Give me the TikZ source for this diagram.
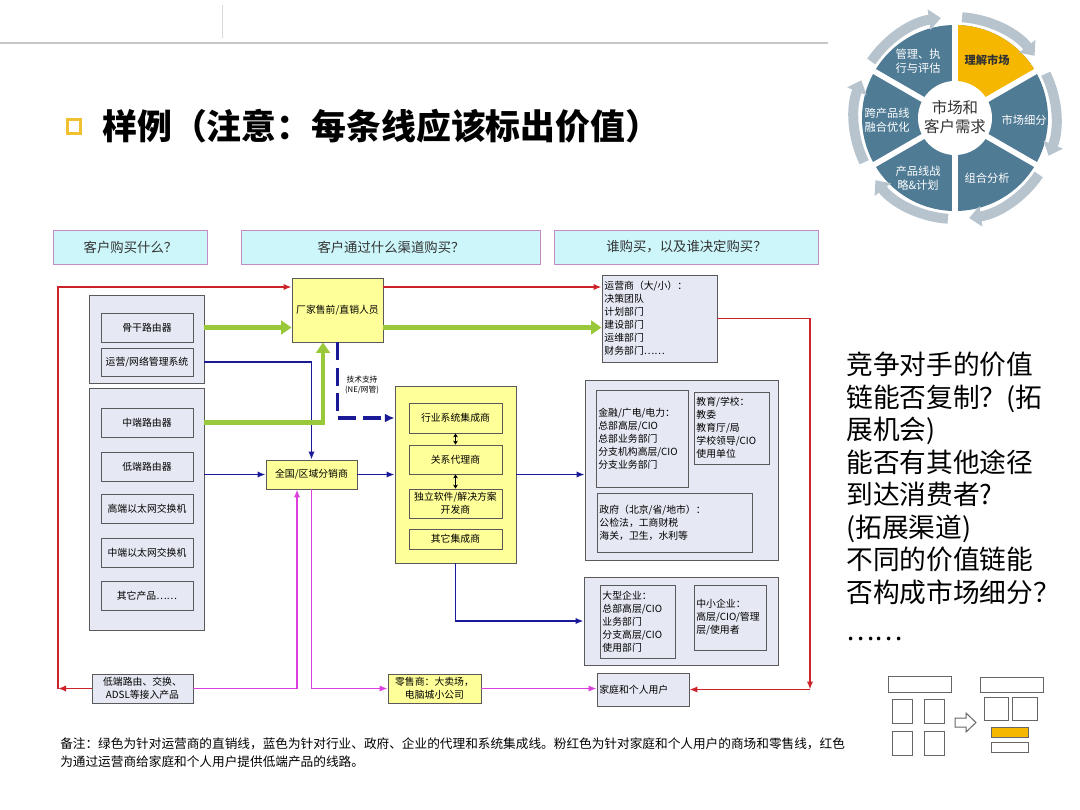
\documentclass[tikz,border=0pt]{standalone}
\usepackage{fontspec}
\setmainfont{Noto Sans CJK SC}
\usepackage{tikz}
\usetikzlibrary{positioning,arrows.meta}
\definecolor{secblue}{HTML}{4F7B95}
\definecolor{ringgray}{HTML}{B7C4CE}
\definecolor{mktyellow}{HTML}{F5B700}
\definecolor{hdrfill}{HTML}{CCF6FA}
\definecolor{hdrline}{HTML}{C48BC8}
\definecolor{boxfill}{HTML}{E6E9F3}
\definecolor{boxline}{HTML}{5A5A5A}
\definecolor{chanyellow}{HTML}{FFFF99}
\definecolor{lnred}{HTML}{CC2229}
\definecolor{lngreen}{HTML}{99C83A}
\definecolor{lnblue}{HTML}{1A1A96}
\definecolor{lnpink}{HTML}{DD3FDD}
\definecolor{bulletyellow}{HTML}{EFC030}

\begin{document}
\begin{tikzpicture}[
    x=0.025cm, y=-0.025cm,
    >=Latex,
    hdr/.style={draw=hdrline, fill=hdrfill, line width=0.7pt, text=black!80, font=\fontsize{9.5}{11}\selectfont},
    grp/.style={draw=boxline, fill=boxfill, line width=0.6pt},
    blk/.style={draw=boxline, fill=boxfill, line width=0.6pt, align=center, inner sep=1pt, font=\fontsize{7}{9}\selectfont},
    chan/.style={blk, fill=chanyellow},
    who/.style={blk, align=left, inner xsep=0.6mm, font=\fontsize{7}{9.2}\selectfont},
    redln/.style={draw=lnred, line width=1.4pt, -{Latex[length=2mm,width=1.6mm]}},
    grnln/.style={draw=lngreen, line width=2.9pt, -{Triangle[length=2.6mm,width=3.4mm]}},
    bluln/.style={draw=lnblue, line width=1.4pt, -{Latex[length=2mm,width=1.6mm]}},
    dashln/.style={draw=lnblue, line width=2.6pt, dash pattern=on 4.5mm off 1.8mm, -{Latex[length=2.4mm,width=2.2mm]}},
    pnkln/.style={draw=lnpink, line width=1.4pt, -{Latex[length=2mm,width=1.6mm]}},
    ring/.style={draw=ringgray, line width=2.5mm, -{Triangle[length=3mm,width=5mm]}},
    cyctxt/.style={text=white, align=center, font=\fontsize{8}{10}\selectfont},
    iconln/.style={draw=black!60, line width=0.7pt},
  ]
    \useasboundingbox (0,0) rectangle (1080,810);

    \draw[black!22, line width=1pt] (0,43) -- (828,43);
    \draw[black!15, line width=0.6pt] (222,5) -- (222,38);
    \draw[bulletyellow, line width=0.75mm] (67,119) rectangle (80,133);
    \node[anchor=west, inner sep=0pt, font=\fontsize{24.8}{28}\selectfont\bfseries] (title) at (102,126)
      {样例（注意：每条线应该标出价值）};

    % market cycle
    \begin{scope}[shift={(955,118)}, x=0.025cm, y=0.025cm]
      \foreach \a in {150,90,30,-30,-90,-150}
        \fill[secblue] (0,0) -- (\a:93) arc[start angle=\a, delta angle=-60, radius=93] -- cycle;
      \fill[mktyellow] (0,0) -- (90:93) arc[start angle=90, delta angle=-60, radius=93] -- cycle;
      \foreach \a in {30,90,...,330} \draw[white, line width=1.4mm] (0,0) -- (\a:96);
      \fill[white] (0,0) circle (37);
      \foreach \a [evaluate=\a as \b using \a-4] in {150,90,30,-30,-90,-150}
        \draw[ring] (\b:101) arc[start angle=\b, delta angle=-48, radius=101];
      \node[cyctxt] (manage) at (-37,57) {管理、执\\行与评估};
      \node[font=\fontsize{8}{10}\selectfont\bfseries, text=black!80] (understand) at (32,58) {理解市场};
      \node[cyctxt] (merge) at (-68,-2) {跨产品线\\融合优化};
      \node[cyctxt] (segment) at (69,-2) {市场细分};
      \node[cyctxt] (strategy) at (-37,-60) {产品线战\\略\&计划};
      \node[cyctxt] (portfolio) at (32,-60) {组合分析};
      \node[align=center, text=black!80, font=\fontsize{11}{14}\selectfont] (core) at (0,1) {市场和\\客户需求};
    \end{scope}

    \node[hdr, minimum width=38.25mm, minimum height=8.5mm] (askwhat) at (130.5,247) {客户购买什么？};
    \node[hdr, minimum width=74.5mm, minimum height=8.5mm] (askhow) at (391,247) {客户通过什么渠道购买？};
    \node[hdr, minimum width=65.75mm, minimum height=8.5mm] (askwho) at (686.5,247) {谁购买，以及谁决定购买？};

    \node[grp, minimum width=28.75mm, minimum height=22mm] (prodA) at (146.5,339) {};
    \node[grp, minimum width=28.75mm, minimum height=60.5mm] (prodB) at (146.5,509) {};
    \node[blk, minimum width=23mm, minimum height=7.25mm] (bbrouter) at (147,327.5) {骨干路由器};
    \node[blk, minimum width=23mm, minimum height=7mm] (opsys) at (147,362) {运营/网络管理系统};
    \node[blk, minimum width=23mm, minimum height=7.25mm] (midrouter) at (147,422.5) {中端路由器};
    \node[blk, minimum width=23mm, minimum height=7.25mm] (lowrouter) at (147,466.5) {低端路由器};
    \node[blk, minimum width=23mm, minimum height=7.25mm] (hiswitch) at (147,508.5) {高端以太网交换机};
    \node[blk, minimum width=23mm, minimum height=7.25mm] (midswitch) at (147,552.5) {中端以太网交换机};
    \node[blk, minimum width=23mm, minimum height=7.25mm] (otherprod) at (147,595.5) {其它产品……};
    \node[blk, minimum width=25.25mm, minimum height=7.25mm] (lowend) at (142.5,688.5) {低端路由、交换、\\ADSL等接入产品};

    \node[chan, minimum width=22.75mm, minimum height=16mm] (vendor) at (337.5,310) {厂家售前/直销人员};
    \node[chan, minimum width=22.75mm, minimum height=7.25mm] (dist) at (311.5,474.5) {全国/区域分销商};
    \node[chan, minimum width=30.25mm, minimum height=44.25mm] (integ) at (455.5,474.5) {};
    \node[chan, minimum width=23.25mm, minimum height=7.5mm] (sysint) at (455.5,418) {行业系统集成商};
    \node[chan, minimum width=23.25mm, minimum height=7.25mm] (agent) at (455.5,459.5) {关系代理商};
    \node[chan, minimum width=23.25mm, minimum height=7.25mm] (isv) at (455.5,503.5) {独立软件/解决方案\\开发商};
    \node[chan, minimum width=23.25mm, minimum height=5mm] (othint) at (455.5,539) {其它集成商};
    \node[chan, minimum width=23.25mm, minimum height=7.25mm] (retail) at (434.5,688.5) {零售商：大卖场，\\电脑城小公司};
    \node[font=\fontsize{5.5}{7}\selectfont, align=center] (techsup) at (362,385) {技术支持\\(NE/网管)};

    \node[who, minimum width=28.75mm, minimum height=21.75mm, text width=27.5mm] (carrier) at (659.5,318.5)
      {运营商（大/小）：\\决策团队\\计划部门\\建设部门\\运维部门\\财务部门……};
    \node[grp, minimum width=48.25mm, minimum height=45mm] (sector) at (681.5,470) {};
    \node[who, minimum width=23mm, minimum height=24.25mm, text width=21.8mm] (finance) at (642,438.5)
      {金融/广电/电力：\\总部高层/CIO\\总部业务部门\\分支机构高层/CIO\\分支业务部门};
    \node[who, minimum width=18.75mm, minimum height=18mm, text width=17.5mm] (school) at (731.5,428)
      {教育/学校：\\教委\\教育厅/局\\学校领导/CIO\\使用单位};
    \node[who, minimum width=38.75mm, minimum height=14.75mm, text width=37.5mm] (govt) at (674.5,522.5)
      {政府（北京/省/地市）：\\公检法，工商财税\\海关，卫生，水利等};
    \node[grp, minimum width=48.5mm, minimum height=22mm] (corp) at (681,621) {};
    \node[who, minimum width=18.75mm, minimum height=18.25mm, text width=17.5mm] (bigcorp) at (637.5,621.5)
      {大型企业：\\总部高层/CIO\\业务部门\\分支高层/CIO\\使用部门};
    \node[who, minimum width=18mm, minimum height=16.25mm, text width=16.8mm] (smallcorp) at (730,617.5)
      {中小企业：\\高层/CIO/管理\\层/使用者};
    \node[who, minimum width=23mm, minimum height=8.25mm, text width=21.8mm] (home) at (643,689.5) {家庭和个人用户};

    \draw[<->, >={Stealth[length=1mm,width=1.2mm]}, thin] (sysint.south) -- (agent.north);
    \draw[<->, >={Stealth[length=1mm,width=1.2mm]}, thin] (agent.south) -- (isv.north);

    \coordinate (redlow) at (58,688.5);
    \coordinate (redtop) at (58,287);
    \coordinate (redright) at (810,689.5);
    \coordinate (greenbend) at (323,422.5);
    \coordinate (pinkup) at (297,688.5);

    \draw[bluln] (prodA.east |- opsys) -| (dist.north);
    \draw[bluln] (prodB.east |- dist) -- (dist.west);
    \draw[bluln] (dist.east) -- (integ.west);
    \draw[bluln] (integ.east) -- (integ.east -| sector.west);
    \draw[bluln] (integ.south) |- (corp.west);
    \draw[dashln] (vendor.south) |- (integ.west |- sysint);

    \draw[grnln] (prodA.east |- bbrouter) -- (vendor.west |- bbrouter);
    \draw[grnln] (prodB.east |- midrouter) -- (greenbend) -- (greenbend |- vendor.south);
    \draw[grnln] (vendor.east |- bbrouter) -- (carrier.west |- bbrouter);

    \draw[redln] (lowend.west) -- (redlow);
    \draw[redln] (redlow) -- (redtop) -- (redtop -| vendor.west);
    \draw[redln] (vendor.east |- redtop) -- (carrier.west |- redtop);
    \draw[redln] (carrier.east) -| (redright);
    \draw[redln] (redright) -- (home.east);

    \draw[pnkln] (lowend.east) -- (pinkup) -- (pinkup |- dist.south);
    \draw[pnkln] (dist.south) |- (retail.west);
    \draw[pnkln] (retail.east) -- (home.west |- retail);

    \node[anchor=north west, align=left, inner sep=0pt, font=\fontsize{9}{12.8}\selectfont] (note) at (60,737)
      {备注：绿色为针对运营商的直销线，蓝色为针对行业、政府、企业的代理和系统集成线。粉红色为针对家庭和个人用户的商场和零售线，红色\\为通过运营商给家庭和个人用户提供低端产品的线路。};

    \node[anchor=north west, align=left, inner sep=0pt, font=\fontsize{19}{23.1}\selectfont] (questions) at (846,352)
      {竞争对手的价值\\链能否复制？(拓\\展机会)\\能否有其他途径\\到达消费者?\\(拓展渠道)\\不同的价值链能\\否构成市场细分？\\[4pt]……};

    \draw[iconln] (888,676) rectangle (951,692);
    \foreach \x in {892,924} \foreach \y in {699,731} \draw[iconln] (\x,\y) rectangle ++(20,24);
    \draw[iconln] (955,718) -- (966,718) -- (966,713) -- (976,722.5) -- (966,732) -- (966,727) -- (955,727) -- cycle;
    \draw[iconln] (980,677) rectangle (1043,692);
    \draw[iconln] (984,697) rectangle (1008,720);
    \draw[iconln] (1012,697) rectangle (1037,720);
    \filldraw[iconln, fill=mktyellow] (991,727) rectangle (1028,737);
    \draw[iconln] (991,742) rectangle (1028,752);
  \end{tikzpicture}
\end{document}
